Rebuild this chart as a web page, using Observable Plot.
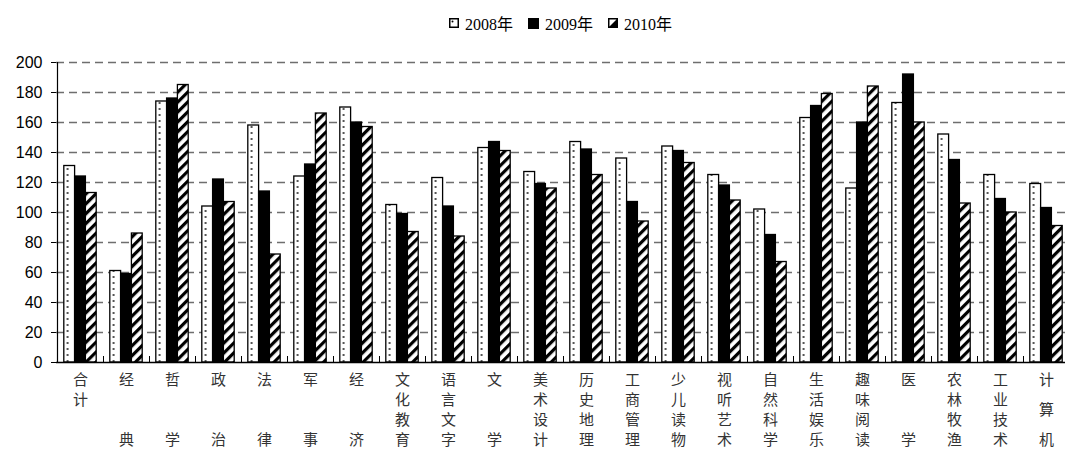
<!DOCTYPE html>
<html>
<head>
<meta charset="utf-8">
<script src="https://cdn.jsdelivr.net/npm/d3@7"></script>
<script src="https://cdn.jsdelivr.net/npm/@observablehq/plot@0.6"></script>
<style>
  html, body { margin: 0; padding: 0; background: #fff; width: 1065px; height: 450px; overflow: hidden; }
  #legend { position: relative; height: 40px; font-family: "Liberation Serif", "Noto Sans CJK SC", serif; font-size: 16px; color: #000; }
  #legend .item { position: absolute; top: 11px; display: flex; align-items: center; white-space: nowrap; }
  #legend svg { margin-right: 6px; }
  #chart svg { display: block; overflow: visible; }
</style>
</head>
<body>
<div id="legend"></div>
<div id="chart"></div>
<script>
// ---- data ----
const categories = ["合计","经典","哲学","政治","法律","军事","经济","文化教育","语言文字","文学","美术设计","历史地理","工商管理","少儿读物","视听艺术","自然科学","生活娱乐","趣味阅读","医学","农林牧渔","工业技术","计算机"];
const tickLabels = ["合计","经　　典","哲　　学","政　　治","法　　律","军　　事","经　　济","文化教育","语言文字","文　　学","美术设计","历史地理","工商管理","少儿读物","视听艺术","自然科学","生活娱乐","趣味阅读","医　　学","农林牧渔","工业技术","计　算　机"];
const years = ["2008年","2009年","2010年"];
const v2008 = [131,61,174,104,158,124,170,105,123,143,127,147,136,144,125,102,163,116,173,152,125,119];
const v2009 = [124,59,176,122,114,132,160,99,104,147,119,142,107,141,118,85,171,160,192,135,109,103];
const v2010 = [113,86,185,107,72,166,157,87,84,141,116,125,94,133,108,67,179,184,160,106,100,91];
const yTicks = [0,20,40,60,80,100,120,140,160,180,200];

const series = [v2008, v2009, v2010];
const fills = ["url(#pDots)", "#000", "url(#pHatch)"];

// ---- layout ----
const W = 1065, H = 410;
const xRange = [56.5, 1068.5];
const band = (xRange[1] - xRange[0]) / categories.length;
const barW = 10.8;
const outer = (band - 3 * barW) / 2;

// character rows for vertical labels
const chars = [];
tickLabels.forEach((lab, i) => {
  const slots = Array.from(lab);
  const step = slots.length <= 4 ? 1 : 3 / (slots.length - 1);
  slots.forEach((ch, j) => {
    if (ch !== "　") chars.push({cat: categories[i], ch, row: j * step});
  });
});
const rows = Array.from(new Set(chars.map(d => d.row))).sort((a,b)=>a-b);

const marks = [
  Plot.gridY(yTicks.filter(t => t > 0), {stroke: "#6e6e6e", strokeOpacity: 1, strokeWidth: 1.3, strokeDasharray: "8,5"}),
  ...series.map((vals, k) => Plot.barY(categories.map((c, i) => ({cat: c, year: years[k], value: vals[i]})), {
    x: "cat", y: "value", fill: fills[k], stroke: "#000", strokeWidth: 1.3,
    insetLeft: outer + k * barW, insetRight: band - outer - (k + 1) * barW
  })),
  Plot.ruleY([0], {stroke: "#000", strokeWidth: 1.3}),
  Plot.ruleX([categories[0]], {y1: 0, y2: 200, dx: -band / 2, stroke: "#000", strokeWidth: 1.2}),
  Plot.ruleX(categories.slice(1), {y1: 0, y2: 4, dx: -band / 2, stroke: "#000", strokeWidth: 1}),
  Plot.axisY({ticks: yTicks, tickSize: 5, tickPadding: 9, fontSize: 16, fontFamily: "Liberation Sans, Arial, sans-serif", label: null, stroke: "#000"}),
  ...rows.map(r => Plot.text(chars.filter(d => d.row === r), {
    x: "cat", text: "ch", frameAnchor: "bottom", dy: 22 + r * 20.3,
    fontSize: 15, fontFamily: "Noto Sans CJK SC, sans-serif", fill: "#333"
  }))
];

const svg = Plot.plot({
  width: W, height: H,
  marginTop: 22, marginBottom: 88, marginLeft: 56, marginRight: 0,
  x: {type: "band", domain: categories, range: xRange, padding: 0, axis: null},
  y: {domain: [0, 200], axis: null},
  style: {background: "#fff", overflow: "visible"},
  marks
});

// dot column sits at a fixed spot inside each 2008 bar: tile width = band
const defs = `
<pattern id="pDots" patternUnits="userSpaceOnUse" x="${xRange[0]}" y="0" width="${band}" height="6">
  <rect width="${band}" height="6" fill="#fff"/>
  <circle cx="${outer + 4.3}" cy="3" r="0.9" fill="#000"/>
</pattern>
<pattern id="pHatch" patternUnits="userSpaceOnUse" width="7" height="7" patternTransform="rotate(45)">
  <rect width="7" height="7" fill="#fff"/>
  <rect width="3.2" height="7" fill="#000"/>
</pattern>`;
d3.select(svg).insert("defs", ":first-child").html(defs);
document.getElementById("chart").appendChild(svg);

// ---- legend ----
const legend = d3.select("#legend");
const lx = [449, 528, 608];
const swatches = [
  `<svg width="10" height="10"><rect x="0.75" y="0.75" width="8.5" height="8.5" fill="#fff" stroke="#000" stroke-width="1.5"/><circle cx="3.5" cy="3.5" r="1" fill="#000"/></svg>`,
  `<svg width="11" height="11"><rect width="11" height="11" fill="#000"/></svg>`,
  `<svg width="10" height="10"><rect x="0.75" y="0.75" width="8.5" height="8.5" fill="#fff" stroke="#000" stroke-width="1.5"/><path d="M1,9 L9,1 L9,9 Z" fill="#000"/></svg>`
];
years.forEach((y, k) => {
  const it = legend.append("div").attr("class", "item").style("left", lx[k] + "px");
  it.html(swatches[k]);
  it.append("span").text(y);
});
</script>
</body>
</html>
